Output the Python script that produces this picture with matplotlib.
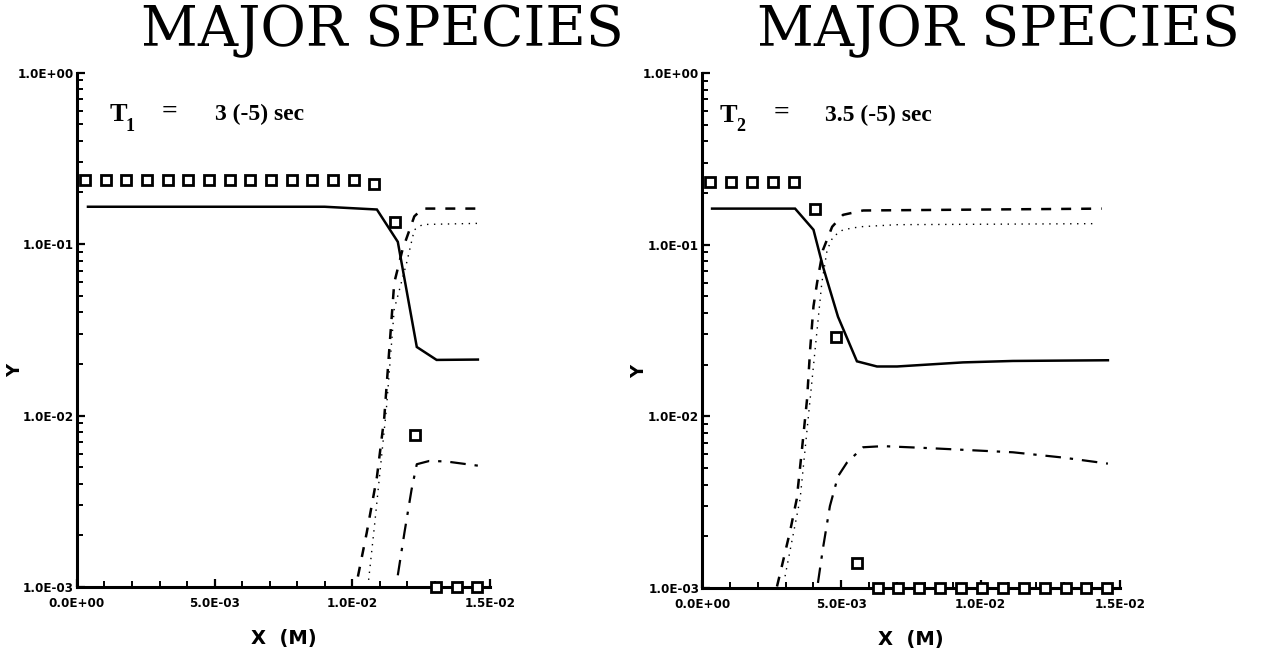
import numpy as np
import matplotlib.pyplot as plt

# left panel, T1 = 3e-5 s
sq1_x = [0.0003, 0.00105, 0.0018, 0.00255, 0.0033, 0.00405, 0.0048, 0.00555,
         0.0063, 0.00705, 0.0078, 0.00855, 0.0093, 0.01005, 0.0108, 0.01155,
         0.0123, 0.01305, 0.0138, 0.01455]
sq1_y = [0.237, 0.237, 0.237, 0.237, 0.237, 0.237, 0.237, 0.237,
         0.237, 0.237, 0.237, 0.237, 0.237, 0.237, 0.225, 0.135,
         0.0077, 0.001, 0.001, 0.001]
solid1_x = [0.0004, 0.003, 0.006, 0.009, 0.0109, 0.01166, 0.01235, 0.01307, 0.01457]
solid1_y = [0.165, 0.165, 0.165, 0.165, 0.159, 0.103, 0.0251, 0.0211, 0.0212]
dash1_x = [0.01021, 0.01053, 0.0109, 0.01117, 0.01135, 0.01153, 0.01183, 0.01226, 0.01256, 0.01457]
dash1_y = [0.00115, 0.00207, 0.00437, 0.0098, 0.0242, 0.0594, 0.0927, 0.145, 0.161, 0.161]
dot1_x = [0.0106, 0.01082, 0.01124, 0.01153, 0.01198, 0.01226, 0.01256, 0.01457]
dot1_y = [0.0011, 0.00234, 0.0107, 0.0417, 0.0776, 0.121, 0.13, 0.132]
dd1_x = [0.01166, 0.0119, 0.01216, 0.01235, 0.0128, 0.0134, 0.01457]
dd1_y = [0.00117, 0.00207, 0.0037, 0.0052, 0.00543, 0.0054, 0.0051]

# right panel, T2 = 3.5e-5 s
sq2_x = [0.0003, 0.00105, 0.0018, 0.00255, 0.0033, 0.00405, 0.0048, 0.00555,
         0.0063, 0.00705, 0.0078, 0.00855, 0.0093, 0.01005, 0.0108, 0.01155,
         0.0123, 0.01305, 0.0138, 0.01455]
sq2_y = [0.232, 0.232, 0.232, 0.232, 0.232, 0.162, 0.0288, 0.0014,
         0.001, 0.001, 0.001, 0.001, 0.001, 0.001, 0.001, 0.001,
         0.001, 0.001, 0.001, 0.001]
solid2_x = [0.00036, 0.002, 0.00334, 0.004, 0.00434, 0.00488, 0.00556, 0.00628,
            0.007, 0.00937, 0.01116, 0.01457]
solid2_y = [0.162, 0.162, 0.162, 0.122, 0.0745, 0.038, 0.0209, 0.0195,
            0.0195, 0.0206, 0.021, 0.0212]
dash2_x = [0.00269, 0.00287, 0.00316, 0.0034, 0.00359, 0.00377, 0.00388, 0.004,
           0.00413, 0.00434, 0.00467, 0.00506, 0.00578, 0.01435]
dash2_y = [0.00102, 0.00135, 0.00214, 0.0033, 0.0065, 0.0126, 0.0245, 0.0437,
           0.060, 0.093, 0.127, 0.149, 0.158, 0.162]
dot2_x = [0.00298, 0.00352, 0.00388, 0.0043, 0.00449, 0.0047, 0.00506, 0.00567, 0.007, 0.0141]
dot2_y = [0.00117, 0.0033, 0.0126, 0.060, 0.093, 0.111, 0.122, 0.127, 0.1306, 0.1324]
dd2_x = [0.00416, 0.00434, 0.00459, 0.00488, 0.0052, 0.00578, 0.0065, 0.00818, 0.01116, 0.01295, 0.01457]
dd2_y = [0.00107, 0.0017, 0.003, 0.00447, 0.00537, 0.0066, 0.0067, 0.00652, 0.00617, 0.00575, 0.0053]

xticks = [0.0, 0.005, 0.010, 0.015]
xtick_labels = ['0.0E+00', '5.0E-03', '1.0E-02', '1.5E-02']
yticks = [1e-3, 1e-2, 1e-1, 1e0]
ytick_labels = ['1.0E-03', '1.0E-02', '1.0E-01', '1.0E+00']

panels = [
    (sq1_x, sq1_y, solid1_x, solid1_y, dash1_x, dash1_y, dot1_x, dot1_y, dd1_x, dd1_y,
     'T', '1', '3 (-5) sec', [0.0606, 0.0997, 0.325, 0.789], (0.08, 0.225, 0.334)),
    (sq2_x, sq2_y, solid2_x, solid2_y, dash2_x, dash2_y, dot2_x, dot2_y, dd2_x, dd2_y,
     'T', '2', '3.5 (-5) sec', [0.5528, 0.0982, 0.329, 0.790], (0.043, 0.19, 0.294)),
]

fig = plt.figure(figsize=(12.7, 6.52), dpi=100)
tick_font = dict(family='DejaVu Sans', weight='bold', size=9.5, stretch='condensed')
serif_bold = dict(fontweight='bold', family='Liberation Serif', va='center')

for (sx, sy, lx, ly, dx, dy, ox, oy, ax_, ay, tname, tsub, tval, rect, tpos) in panels:
    ax = fig.add_axes(rect)
    ax.set_yscale('log')
    ax.plot(lx, ly, color='black', lw=1.8, solid_joinstyle='miter')
    ax.plot(dx, dy, color='black', lw=1.8, dashes=(4, 4))
    ax.plot(ox, oy, color='black', lw=1.0, dashes=(1, 4))
    ax.plot(ax_, ay, color='black', lw=1.6, dashes=(7, 4, 1.5, 4))
    ax.plot(sx, sy, ls='none', marker='s', ms=7, mfc='white', mec='black', mew=2,
            clip_on=False, zorder=5)
    ax.set_xlim(0, 0.015)
    ax.set_ylim(1e-3, 1)
    for s in ['top', 'right']:
        ax.spines[s].set_visible(False)
    for s in ['left', 'bottom']:
        ax.spines[s].set_linewidth(2.2)
    ax.set_xticks(xticks)
    ax.set_xticklabels(xtick_labels, fontdict=tick_font)
    ax.set_xticks(np.arange(0.001, 0.015, 0.001), minor=True)
    ax.set_yticks(yticks)
    ax.set_yticklabels(ytick_labels, fontdict=tick_font)
    ax.tick_params(axis='both', which='major', direction='in', length=6, width=1.6, pad=7)
    ax.tick_params(axis='both', which='minor', direction='in', length=4, width=1.4)
    ax.tick_params(axis='y', which='major', pad=2)
    ax.set_xlabel('X  (M)', fontsize=14, fontweight='bold', labelpad=14)
    ax.text(-0.15, 0.42, 'Y', transform=ax.transAxes, fontsize=13, fontweight='bold',
            rotation=90, ha='center', va='center')
    ax.text(tpos[0], 0.918, tname, transform=ax.transAxes, fontsize=19, **serif_bold)
    ax.text(tpos[0] + 0.038, 0.895, tsub, transform=ax.transAxes, fontsize=13, **serif_bold)
    ax.text(tpos[1], 0.922, '=', transform=ax.transAxes, fontsize=20, ha='center', **serif_bold)
    ax.text(tpos[2], 0.918, tval, transform=ax.transAxes, fontsize=17, **serif_bold)

fig.text(0.301, 1 - 46 / 652, 'MAJOR SPECIES', ha='center', va='baseline',
         family='DejaVu Serif', fontsize=40)
fig.text(0.786, 1 - 46 / 652, 'MAJOR SPECIES', ha='center', va='baseline',
         family='DejaVu Serif', fontsize=40)

fig.savefig('out.png', dpi=100)
